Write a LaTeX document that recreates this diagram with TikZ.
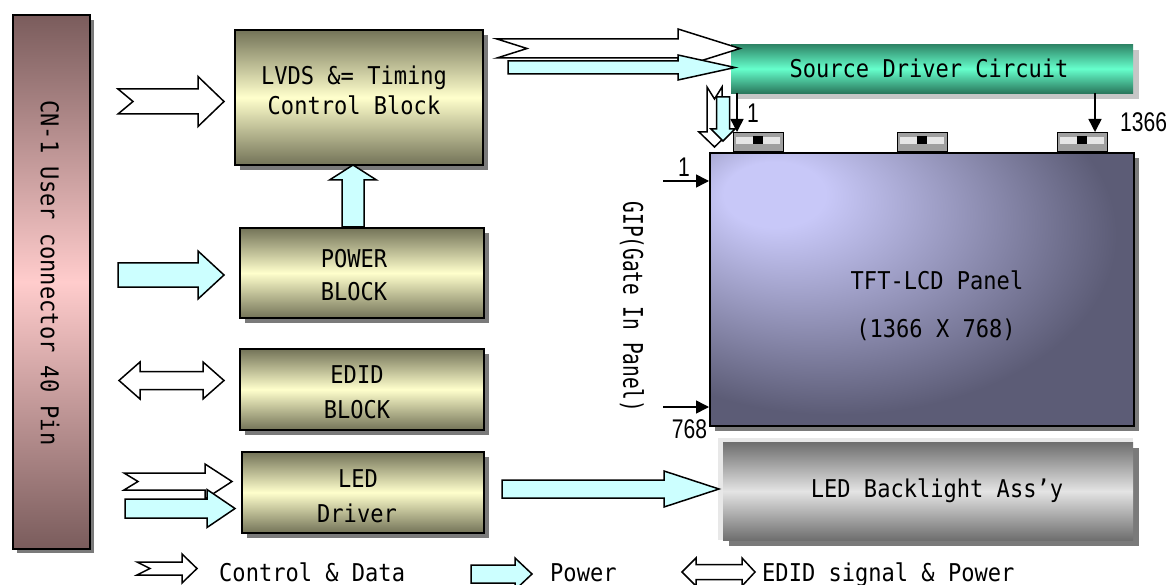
\documentclass[tikz,border=0pt]{standalone}
\usepackage{fontspec}
\newfontfamily\gf[FakeStretch=0.9]{DejaVu Sans Mono}
\newfontfamily\gfn[FakeStretch=0.72]{DejaVu Sans Mono}
\newfontfamily\nf[FakeStretch=0.78]{Liberation Sans}
\usetikzlibrary{arrows.meta}
\definecolor{olD}{HTML}{737358}
\definecolor{olL}{HTML}{FFFFCC}
\definecolor{cnD}{HTML}{7A5C5C}
\definecolor{cnL}{HTML}{FFCCCC}
\definecolor{srD}{HTML}{2E8466}
\definecolor{srL}{HTML}{66FFCC}
\definecolor{blD}{HTML}{6E6E6E}
\definecolor{blL}{HTML}{E4E4E4}
\definecolor{tftL}{HTML}{C8C8F8}
\definecolor{tftD}{HTML}{5C5C76}
\definecolor{cyanF}{HTML}{CCFFFF}
\definecolor{shdC}{HTML}{7A7A7A}
\pgfdeclareradialshading{tftshade}{\pgfpoint{-19bp}{19bp}}{color(0bp)=(tftL); color(6bp)=(tftL); color(33bp)=(tftD); color(70bp)=(tftD)}
\tikzset{
  blk/.style={draw=black, line width=1.8pt, top color=olD, bottom color=olD, middle color=olL, anchor=north west, inner sep=0pt},
  cnbox/.style={draw=black, line width=1.8pt, top color=cnD, bottom color=cnD, middle color=cnL, anchor=north west, inner sep=0pt},
  srcbox/.style={draw=none, top color=srD, bottom color=srD!90!black, middle color=srL, anchor=north west, inner sep=0pt},
  blbox/.style={draw=none, top color=blD, bottom color=blD, middle color=blL, anchor=north west, inner sep=0pt},
  tftbox/.style={draw=black, line width=1.8pt, shading=tftshade, anchor=north west, inner sep=0pt},
  chipbox/.style={draw=black, line width=0.8pt, fill=gray!75, anchor=north west, inner sep=0pt, minimum width=50pt, minimum height=19pt},
  shd/.style={fill=shdC, draw=none},
  ctl/.style={draw=black, line width=1.5pt, fill=white, line join=miter},
  pwr/.style={draw=black, line width=1.5pt, fill=cyanF, line join=miter},
  txt/.style={font=\gf\fontsize{24.5}{28}\selectfont, inner sep=0pt},
  num/.style={font=\nf\fontsize{27}{30}\selectfont, inner sep=0pt},
  thinarr/.style={line width=1.5pt, -{Triangle[width=13pt,length=13pt]}},
}
% horizontal block arrow: style, tail x, tip x, y centre, shaft half, head half, head base x, notch
\newcommand\HArrow[8]{\draw[#1] (#2,{#4-#5}) -- (#7,{#4-#5}) -- (#7,{#4-#6}) -- (#3,#4) -- (#7,{#4+#6}) -- (#7,{#4+#5}) -- (#2,{#4+#5}) -- ({#2+#8},#4) -- cycle;}
% double block arrow: style, left tip, right tip, y centre, shaft half, head half, left base x, right base x
\newcommand\DArrow[8]{\draw[#1] (#2,#4) -- (#7,{#4-#6}) -- (#7,{#4-#5}) -- (#8,{#4-#5}) -- (#8,{#4-#6}) -- (#3,#4) -- (#8,{#4+#6}) -- (#8,{#4+#5}) -- (#7,{#4+#5}) -- (#7,{#4+#6}) -- cycle;}
% vertical block arrow: style, x centre, tail y, tip y, shaft half, head half, head base y, notch
\newcommand\VArrow[8]{\draw[#1] ({#2-#5},#3) -- ({#2-#5},#7) -- ({#2-#6},#7) -- (#2,#4) -- ({#2+#6},#7) -- ({#2+#5},#7) -- ({#2+#5},#3) -- (#2,{#3+#8}) -- cycle;}
\newcommand\ChipAt[2]{%
  \node[chipbox] (#2) at (#1,132) {};
  \fill[gray!20] ({#1+3},137) rectangle ({#1+47},144);
  \fill[black] ({#1+20},136.5) rectangle ({#1+30},144.5);
}
\begin{document}
\begin{tikzpicture}[x=1pt,y=-1pt]
\useasboundingbox (0,0) rectangle (1169,585);
\fill[white] (0,0) rectangle (1169,585);

% connector bar
\fill[shd] (17,20) rectangle (94,553);
\node[cnbox, minimum width=77pt, minimum height=534pt] (cn) at (12,14) {};
\node[txt, rotate=-90] (cnT) at (50,273) {CN-1 User connector 40 Pin};

% left blocks
\fill[shd] (240,35) rectangle (488,170);
\node[blk, minimum width=248pt, minimum height=135pt] (lvds) at (234,29) {};
\node[txt, anchor=base] (lvdsA) at (354,85) {LVDS \&= Timing};
\node[txt, anchor=base] (lvdsB) at (354,115) {Control Block};

\fill[shd] (245,233) rectangle (489,323);
\node[blk, minimum width=244pt, minimum height=90pt] (pwrb) at (239,227) {};
\node[txt, anchor=base] (pwrA) at (354,267) {POWER};
\node[txt, anchor=base] (pwrB) at (354,300) {BLOCK};

\fill[shd] (245,354) rectangle (489,435);
\node[blk, minimum width=244pt, minimum height=81pt] (edid) at (239,348) {};
\node[txt, anchor=base] (edidA) at (357,383) {EDID};
\node[txt, anchor=base] (edidB) at (357,418) {BLOCK};

\fill[shd] (247,457) rectangle (489,538);
\node[blk, minimum width=242pt, minimum height=81pt] (led) at (241,451) {};
\node[txt, anchor=base] (ledA) at (358,487) {LED};
\node[txt, anchor=base] (ledB) at (357,522) {Driver};

% source driver
\fill[gray!45] (737,50) rectangle (1139,99);
\node[srcbox, minimum width=402pt, minimum height=49pt] (src) at (731,44) {};
\node[txt, anchor=base] (srcT) at (929,78) {Source Driver Circuit};

% TFT panel
\fill[shd] (715,158) rectangle (1139,431);
\node[tftbox, minimum width=424pt, minimum height=273pt] (tft) at (709,152) {};
\node[txt, anchor=base] (tftA) at (937,289) {TFT-LCD Panel};
\node[txt, anchor=base] (tftB) at (936,337) {(1366 X 768)};

% chips
\ChipAt{733}{chipA}
\ChipAt{897}{chipB}
\ChipAt{1057}{chipC}

% LED backlight
\fill[shd] (729,448) rectangle (1139,546);
\fill[gray!18] (718,438) rectangle (1133,540);
\node[blbox, minimum width=410pt, minimum height=98pt] (bl) at (723,442) {};
\node[txt, anchor=base] (blT) at (937,497) {LED Backlight Ass’y};

% GIP label
\node[font=\gfn\fontsize{27}{30}\selectfont, inner sep=0pt, rotate=-90] (gip) at (632,307) {GIP(Gate In Panel)};

% block arrows, left side
\HArrow{ctl}{118}{224}{101.5}{12.5}{25}{198}{15}
\HArrow{pwr}{118}{224}{275}{12}{24}{198}{0}
\DArrow{ctl}{119}{224}{380.5}{9}{18.5}{140}{203}
\HArrow{ctl}{124}{232}{481.5}{8.5}{17.5}{205}{14}
\HArrow{pwr}{125}{235}{508.5}{9.5}{19}{207}{0}
% power block to timing block
\VArrow{pwr}{353}{227}{165}{11}{23.5}{180}{0}
% timing block to source driver
\HArrow{ctl}{497}{740}{48.5}{9.5}{19.5}{678}{30}
\HArrow{pwr}{508}{735}{67.5}{6.5}{12.5}{678}{0}
% down arrows to panel (gate in panel)
\VArrow{ctl}{714.5}{87}{147}{7.5}{15.5}{132}{12}
\VArrow{pwr}{723}{97}{141}{6.5}{12}{129}{0}
% LED driver to backlight
\HArrow{pwr}{502}{719}{489}{9}{18}{664}{0}

% thin arrows
\coordinate (s1) at (737,93);
\coordinate (s2) at (1095,93);
\coordinate (g1) at (663,181);
\coordinate (g2) at (663,407);
\draw[thinarr] (s1) -- (737,132);
\draw[thinarr] (s2) -- (1095,132);
\draw[thinarr] (g1) -- (tft.west |- g1);
\draw[thinarr] (g2) -- (tft.west |- g2);
\node[num, anchor=base] (n1) at (753,123) {1};
\node[num, anchor=base west] (n1366) at (1120,132) {1366};
\node[num, anchor=base] (n1b) at (684,177) {1};
\node[num, anchor=base] (n768) at (689.5,438) {768};

% legend
\HArrow{ctl}{137}{197}{568.5}{6.5}{14.5}{182}{13}
\node[txt, anchor=base west] (legA) at (219,581) {Control \& Data};
\HArrow{pwr}{471}{532}{574}{9}{16}{515}{0}
\node[txt, anchor=base west] (legB) at (550,581) {Power};
\DArrow{ctl}{682}{755}{572}{7.5}{14}{696}{742}
\node[txt, anchor=base west] (legC) at (762,581) {EDID signal \& Power};
\end{tikzpicture}
\end{document}
